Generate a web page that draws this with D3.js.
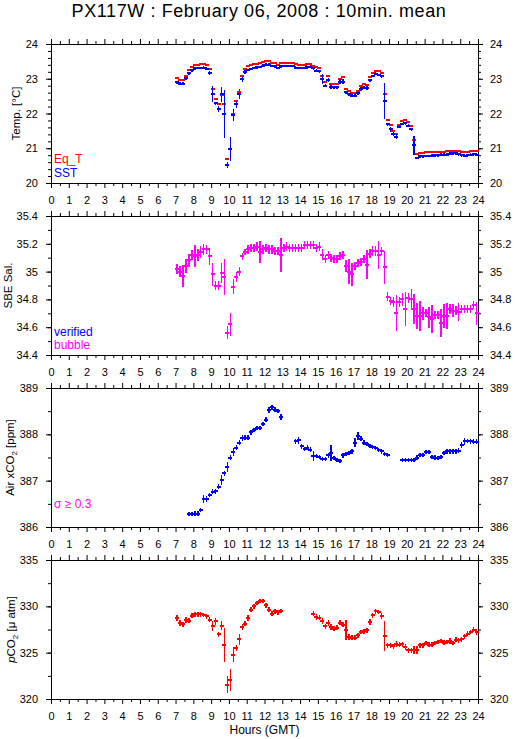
<!DOCTYPE html>
<html>
<head>
<meta charset="utf-8">
<script src="https://cdn.jsdelivr.net/npm/d3@7"></script>
<style>
  body { margin: 0; background: #fff; }
  svg { display: block; font-family: "Liberation Sans", Arial, Helvetica, sans-serif; }
</style>
</head>
<body>
<div id="chart"></div>
<script>
// 10 minute means, first bin starts 07:00 GMT
var binStart = 7
var binMinutes = 10

var hourTicks = [0,1,2,3,4,5,6,7,8,9,10,11,12,13,14,15,16,17,18,19,20,21,22,23,24]
var halfHourTicks = d3.range(0.5, 24, 1)

var tempTicks = [20, 21, 22, 23, 24]
var salTicks = [34.4, 34.6, 34.8, 35, 35.2, 35.4]
var airTicks = [386, 387, 388, 389]
var pco2Ticks = [320, 325, 330, 335]

var eqT = [
  23.02, 22.96, 22.96, 23.09, 23.25, 23.33, 23.40, 23.40, 23.42, 23.42, 23.40, 23.28,
  22.71, 22.41, 22.27, 22.54, 22.27, 20.68, 20.98, 22.00, 22.35, 22.61, 23.07, 23.28, 23.36, 23.39, 23.42, 23.43,
  23.44, 23.48, 23.51, 23.51, 23.46, 23.45, 23.40, 23.45, 23.45, 23.45, 23.45, 23.45, 23.42, 23.40, 23.40, 23.40, 23.42, 23.42, 23.36, 23.33, 23.30,
  23.09, 22.90, 23.07, 22.85, 22.85, 22.85, 22.99, 23.04, 22.70, 22.66, 22.58, 22.58, 22.66, 22.78, 22.86, 22.82, 23.04, 23.16, 23.23, 23.23, 23.16, 22.55,
  21.80, 21.68, 21.49, 21.42, 21.67, 21.78, 21.80, 21.76, 21.65, 21.25, 20.83, 20.87,
  20.87, 20.88, 20.88, 20.88, 20.89, 20.90, 20.90, 20.90, 20.92, 20.93, 20.93, 20.93, 20.92, 20.90, 20.89, 20.89, 20.91, 20.92, 20.92
]

var sst = [
  22.90, 22.86, 22.86, 23.01, 23.16, 23.24, 23.30, 23.31, 23.31, 23.32, 23.29, 23.16,
  22.56, 22.29, 22.13, 22.55, 21.98, 20.51, 20.98, 21.95, 22.27, 22.56, 22.99, 23.19, 23.25, 23.28, 23.31, 23.33,
  23.34, 23.38, 23.40, 23.40, 23.37, 23.36, 23.31, 23.36, 23.37, 23.37, 23.37, 23.37, 23.32, 23.31, 23.31, 23.31, 23.33, 23.35, 23.30, 23.23, 23.21,
  23.00, 22.80, 22.97, 22.76, 22.75, 22.75, 22.92, 22.92, 22.61, 22.55, 22.51, 22.51, 22.58, 22.70, 22.74, 22.73, 22.95, 23.08, 23.14, 23.11, 23.07, 22.36,
  21.69, 21.54, 21.40, 21.33, 21.62, 21.70, 21.72, 21.65, 21.54, 21.09, 20.72, 20.77,
  20.77, 20.78, 20.78, 20.79, 20.80, 20.80, 20.81, 20.81, 20.82, 20.84, 20.85, 20.85, 20.83, 20.80, 20.79, 20.80, 20.82, 20.83, 20.82
]

var sstErr = [
  0.04, 0.04, 0.04, 0.05, 0.04, 0.04, 0.04, 0.04, 0.04, 0.04, 0.04, 0.05,
  0.24, 0.05, 0.09, 0.21, 0.69, 0.09, 0.34, 0.17, 0.10, 0.15, 0.09, 0.05, 0.04, 0.04, 0.04, 0.04,
  0.04, 0.04, 0.04, 0.04, 0.04, 0.04, 0.04, 0.04, 0.04, 0.04, 0.04, 0.04, 0.04, 0.04, 0.04, 0.04, 0.04, 0.04, 0.04, 0.04, 0.04,
  0.14, 0.05, 0.05, 0.05, 0.04, 0.04, 0.08, 0.08, 0.05, 0.05, 0.04, 0.04, 0.04, 0.05, 0.04, 0.05, 0.05, 0.04, 0.04, 0.04, 0.04, 0.53,
  0.05, 0.06, 0.06, 0.07, 0.05, 0.04, 0.04, 0.04, 0.05, 0.27, 0.04, 0.04,
  0.04, 0.04, 0.04, 0.04, 0.04, 0.04, 0.04, 0.04, 0.04, 0.04, 0.04, 0.04, 0.04, 0.04, 0.04, 0.04, 0.04, 0.04, 0.04
]

var salinity = [
  35.02, 35.00, 34.97, 35.04, 35.08, 35.12, 35.11, 35.12, 35.14, 35.16, 35.16, 35.11,
  34.98, 34.90, 34.90, 34.99, 34.96, 34.56, 34.62, 34.89, 34.96, 35.00, 35.11, 35.14, 35.16, 35.17, 35.17, 35.18,
  35.14, 35.16, 35.17, 35.16, 35.16, 35.15, 35.15, 35.12, 35.17, 35.18, 35.17, 35.17, 35.17, 35.17, 35.17, 35.19, 35.19, 35.19, 35.19, 35.17, 35.18,
  35.12, 35.09, 35.12, 35.10, 35.09, 35.09, 35.11, 35.12, 35.04, 35.00, 34.98, 35.04, 35.06, 35.07, 35.09, 35.05, 35.13, 35.15, 35.15, 35.12, 35.15, 35.03,
  34.82, 34.79, 34.78, 34.70, 34.78, 34.80, 34.73, 34.81, 34.80, 34.73, 34.68, 34.68,
  34.70, 34.70, 34.67, 34.66, 34.69, 34.69, 34.63, 34.68, 34.68, 34.73, 34.72, 34.72, 34.71, 34.73, 34.73, 34.73, 34.73, 34.76, 34.70
]

var salErr = [
  0.036, 0.038, 0.08, 0.05, 0.048, 0.036, 0.08, 0.042, 0.042, 0.038, 0.03, 0.06,
  0.08, 0.03, 0.034, 0.075, 0.13, 0.048, 0.08, 0.054, 0.034, 0.032, 0.025, 0.024, 0.032, 0.032, 0.03, 0.032,
  0.078, 0.03, 0.03, 0.03, 0.03, 0.03, 0.03, 0.12, 0.03, 0.03, 0.03, 0.03, 0.03, 0.03, 0.03, 0.03, 0.03, 0.03, 0.03, 0.03, 0.03,
  0.04, 0.03, 0.03, 0.03, 0.03, 0.03, 0.03, 0.03, 0.04, 0.09, 0.084, 0.03, 0.03, 0.03, 0.03, 0.105, 0.035, 0.035, 0.035, 0.10, 0.03, 0.12,
  0.03, 0.03, 0.036, 0.13, 0.036, 0.045, 0.12, 0.036, 0.074, 0.11, 0.096, 0.11,
  0.045, 0.03, 0.075, 0.10, 0.03, 0.03, 0.10, 0.084, 0.096, 0.036, 0.048, 0.03, 0.066, 0.03, 0.03, 0.03, 0.03, 0.03, 0.084
]

var airCO2 = [
  null, null, null, null,
  386.28, 386.28, 386.29, 386.29, 386.36, 386.60, 386.60, 386.69, 386.76, 386.77, 386.87, 387.02,
  387.16, 387.29, 387.50, 387.62, 387.71, 387.82, 387.92, 387.93, 387.93, 388.04, 388.10, 388.13,
  388.13, 388.22, 388.32, 388.53, 388.58, 388.53, 388.50, 388.37,
  null, null, null, null,
  387.85, 387.87, 387.74, 387.68, 387.71, 387.67, 387.53, 387.53, 387.51, 387.46, 387.46, 387.55, 387.60, 387.49, 387.44, 387.42,
  387.55, 387.58, 387.60, 387.63, 387.82, 387.97, 387.91, 387.82, 387.80, 387.74, 387.73, 387.71, 387.67, 387.63, 387.58, 387.55,
  null, null, null, null,
  387.44, 387.45, 387.45, 387.44, 387.44, 387.50, 387.55, 387.56, 387.61, 387.62, 387.51, 387.50, 387.49,
  387.51, 387.60, 387.63, 387.63, 387.63, 387.63, 387.65, 387.77, 387.85, 387.86, 387.85, 387.84, 387.84
]

var airErr = [
  0, 0, 0, 0,
  0.045, 0.045, 0.045, 0.045, 0.045, 0.09, 0.06, 0.05, 0.05, 0.05, 0.05, 0.11,
  0.05, 0.11, 0.05, 0.08, 0.05, 0.05, 0.07, 0.05, 0.05, 0.05, 0.045, 0.045,
  0.045, 0.05, 0.05, 0.06, 0.05, 0.05, 0.05, 0.06,
  0, 0, 0, 0,
  0.05, 0.07, 0.06, 0.05, 0.05, 0.05, 0.10, 0.05, 0.045, 0.045, 0.045, 0.05, 0.17, 0.05, 0.045, 0.045,
  0.05, 0.045, 0.045, 0.045, 0.10, 0.09, 0.06, 0.05, 0.045, 0.045, 0.045, 0.045, 0.045, 0.045, 0.045, 0.045,
  0, 0, 0, 0,
  0.045, 0.045, 0.045, 0.045, 0.045, 0.045, 0.045, 0.045, 0.045, 0.045, 0.045, 0.045, 0.045,
  0.045, 0.05, 0.045, 0.045, 0.045, 0.045, 0.05, 0.06, 0.07, 0.05, 0.06, 0.05, 0.05
]

var pco2 = [
  328.75, 328.20, 328.06, 328.50, 328.46, 329.00, 329.15, 329.15, 329.15, 329.07, 328.93, 328.57,
  327.84, 328.39, 326.98, 327.92, 325.86, 321.56, 322.06, 324.80, 325.53, 326.43, 327.77, 328.13, 328.75, 329.65, 330.01, 330.37,
  330.59, 330.59, 330.12, 329.65, 329.22, 329.47, 329.36, 329.50,
  null, null, null, null, null, null, null, null, null, null,
  329.22, 328.86, 328.78, 328.42, 327.84, 328.21, 327.77, 327.59, 327.70, 328.24, 328.02, 327.48, 326.69, 326.62,
  326.62, 326.87, 327.23, 327.30, 327.41, 328.31, 329.04, 329.47, 329.40, 328.93, 326.80, 325.78, 325.78, 325.68,
  325.96, 325.86, 325.89, 325.60, 325.24, 325.24, 325.31, 325.31, 325.78, 325.78, 326.04, 325.86, 325.86, 326.04,
  326.15, 326.25, 326.07, 326.15, 326.25, 326.04, 326.40, 326.33, 326.43, 326.76, 327.05, 327.23, 327.48, 327.23
]

var pco2Err = [
  0.30, 0.30, 0.30, 0.30, 0.30, 0.25, 0.25, 0.25, 0.25, 0.25, 0.25, 0.30,
  0.55, 0.40, 0.30, 0.50, 1.85, 0.95, 1.20, 0.80, 0.30, 0.63, 0.35, 0.30, 0.30, 0.30, 0.25, 0.25,
  0.25, 0.25, 0.25, 0.30, 0.25, 0.25, 0.25, 0.25,
  0, 0, 0, 0, 0, 0, 0, 0, 0, 0,
  0.25, 0.30, 0.30, 0.30, 0.30, 0.30, 0.30, 0.25, 0.25, 0.30, 0.30, 1.08, 0.30, 0.25,
  0.25, 0.25, 0.25, 0.25, 0.25, 0.30, 0.25, 0.25, 0.25, 0.30, 1.57, 0.30, 0.30, 0.30,
  0.30, 0.25, 0.30, 0.30, 0.30, 0.30, 0.45, 0.45, 0.30, 0.25, 0.25, 0.25, 0.25, 0.25,
  0.25, 0.25, 0.25, 0.25, 0.30, 0.25, 0.25, 0.25, 0.25, 0.25, 0.25, 0.25, 0.30, 0.30
]

var width = 515
var height = 739
var margin = {left: 51, right: 37}

var svg = d3.select("#chart")
  .append("svg")
  .attr("width", width)
  .attr("height", height)

var xScale = d3.scaleLinear()
  .domain([0, 24])
  .range([margin.left, width - margin.right])

svg.append("text")
  .attr("x", 259)
  .attr("y", 17)
  .attr("text-anchor", "middle")
  .style("font-size", "18px")
  .style("letter-spacing", "0.6px")
  .text("PX117W : February 06, 2008 : 10min. mean")

svg.append("text")
  .attr("x", 264.5)
  .attr("y", 734)
  .attr("text-anchor", "middle")
  .style("font-size", "12px")
  .text("Hours (GMT)")

var panels = [
  {top: 44, domain: [20, 24], ticks: tempTicks, minor: d3.range(20, 24.01, 0.2), titleX: 20},
  {top: 216, domain: [34.4, 35.4], ticks: salTicks, minor: d3.range(34.4, 35.41, 0.1), titleX: 12},
  {top: 388, domain: [386, 389], ticks: airTicks, minor: d3.range(386, 389.01, 0.5), titleX: 14},
  {top: 560, domain: [320, 335], ticks: pco2Ticks, minor: d3.range(320, 335.01, 2.5), titleX: 14.5}
]
var panelHeight = 139

function styleAxis(g) {
  g.attr("font-family", null).attr("font-size", null)
  g.selectAll("path, line").attr("stroke", "black")
  g.selectAll("text").style("font-size", "11px").attr("fill", "black")
}

var yScales = panels.map(function(p) {
  var bottom = p.top + panelHeight
  var y = d3.scaleLinear().domain(p.domain).range([bottom, p.top])
  var fmt = function(d) { return String(+d.toFixed(1)) }

  // x axes: bottom with labels, top with ticks only
  svg.append("g").attr("transform", `translate(0,${bottom})`)
    .call(d3.axisBottom(xScale).tickValues(halfHourTicks).tickSize(3).tickSizeOuter(0).tickFormat(""))
    .call(styleAxis)
  svg.append("g").attr("transform", `translate(0,${bottom})`)
    .call(d3.axisBottom(xScale).tickValues(hourTicks).tickSize(5).tickSizeOuter(0).tickPadding(8))
    .call(styleAxis)
  svg.append("g").attr("transform", `translate(0,${p.top})`)
    .call(d3.axisTop(xScale).tickValues(halfHourTicks).tickSize(3).tickSizeOuter(0).tickFormat(""))
    .call(styleAxis)
  svg.append("g").attr("transform", `translate(0,${p.top})`)
    .call(d3.axisTop(xScale).tickValues(hourTicks).tickSize(5).tickSizeOuter(0).tickFormat(""))
    .call(styleAxis)

  // y axes both sides
  svg.append("g").attr("transform", `translate(${margin.left},0)`)
    .call(d3.axisLeft(y).tickValues(p.minor).tickSize(3).tickSizeOuter(0).tickFormat(""))
    .call(styleAxis)
  svg.append("g").attr("transform", `translate(${margin.left},0)`)
    .call(d3.axisLeft(y).tickValues(p.ticks).tickSize(5).tickSizeOuter(0).tickPadding(8).tickFormat(fmt))
    .call(styleAxis)
  svg.append("g").attr("transform", `translate(${width - margin.right},0)`)
    .call(d3.axisRight(y).tickValues(p.minor).tickSize(3).tickSizeOuter(0).tickFormat(""))
    .call(styleAxis)
  svg.append("g").attr("transform", `translate(${width - margin.right},0)`)
    .call(d3.axisRight(y).tickValues(p.ticks).tickSize(5).tickSizeOuter(0).tickPadding(7).tickFormat(fmt))
    .call(styleAxis)

  return y
})

function axisTitle(i, parts) {
  var p = panels[i]
  var t = svg.append("text")
    .attr("transform", `translate(${p.titleX},${p.top + panelHeight / 2}) rotate(-90)`)
    .attr("text-anchor", "middle")
    .style("font-size", "11.5px")
  parts.forEach(function(s) {
    var ts = t.append("tspan").text(s.text)
    if (s.sub) ts.attr("dy", 3).style("font-size", "8px")
    if (s.after) ts.attr("dy", -3)
    if (s.italic) ts.style("font-style", "italic")
  })
}
axisTitle(0, [{text: "Temp. [°C]"}])
axisTitle(1, [{text: "SBE Sal."}])
axisTitle(2, [{text: "Air xCO"}, {text: "2", sub: true}, {text: " [ppm]", after: true}])
axisTitle(3, [{text: "p", italic: true}, {text: "CO"}, {text: "2", sub: true}, {text: " [μ atm]", after: true}])

function binTime(i) {
  return binStart + (i + 0.5) * binMinutes / 60
}

// horizontal 10-min bars with optional vertical sd bars
function drawSeries(y, values, errs, color) {
  var pts = values.map(function(v, i) {
    return {t: binTime(i), v: v, e: errs ? errs[i] : 0}
  }).filter(function(d) { return d.v != null })

  var g = svg.append("g")
    .attr("stroke", color)
    .attr("shape-rendering", "crispEdges")

  g.selectAll(null).data(pts).enter()
    .append("line")
    .attr("x1", function(d) { return xScale(d.t) - 2 })
    .attr("x2", function(d) { return xScale(d.t) + 2 })
    .attr("y1", function(d) { return y(d.v) })
    .attr("y2", function(d) { return y(d.v) })
    .attr("stroke-width", 2)

  if (errs) {
    g.selectAll(null).data(pts).enter()
      .append("line")
      .attr("x1", function(d) { return xScale(d.t) })
      .attr("x2", function(d) { return xScale(d.t) })
      .attr("y1", function(d) { return y(d.v - d.e) })
      .attr("y2", function(d) { return y(d.v + d.e) })
      .attr("stroke-width", 1.5)
  }
}

drawSeries(yScales[0], eqT, null, "#ff0000")
drawSeries(yScales[0], sst, sstErr, "#0000ff")
drawSeries(yScales[1], salinity, salErr, "#ff00ff")
drawSeries(yScales[2], airCO2, airErr, "#0000ff")
drawSeries(yScales[3], pco2, pco2Err, "#ff0000")

// legends inside the panels
function legend(x, y, color, txt) {
  svg.append("text")
    .attr("x", x)
    .attr("y", y)
    .style("font-size", "12px")
    .attr("fill", color)
    .text(txt)
}
legend(54, 163, "#ff0000", "Eq_T")
legend(54, 176.5, "#0000ff", "SST")
legend(54, 336, "#0000ff", "verified")
legend(54, 348.5, "#ff00ff", "bubble")
legend(54, 507.5, "#ff00ff", "σ ≥ 0.3")
</script>
</body>
</html>
